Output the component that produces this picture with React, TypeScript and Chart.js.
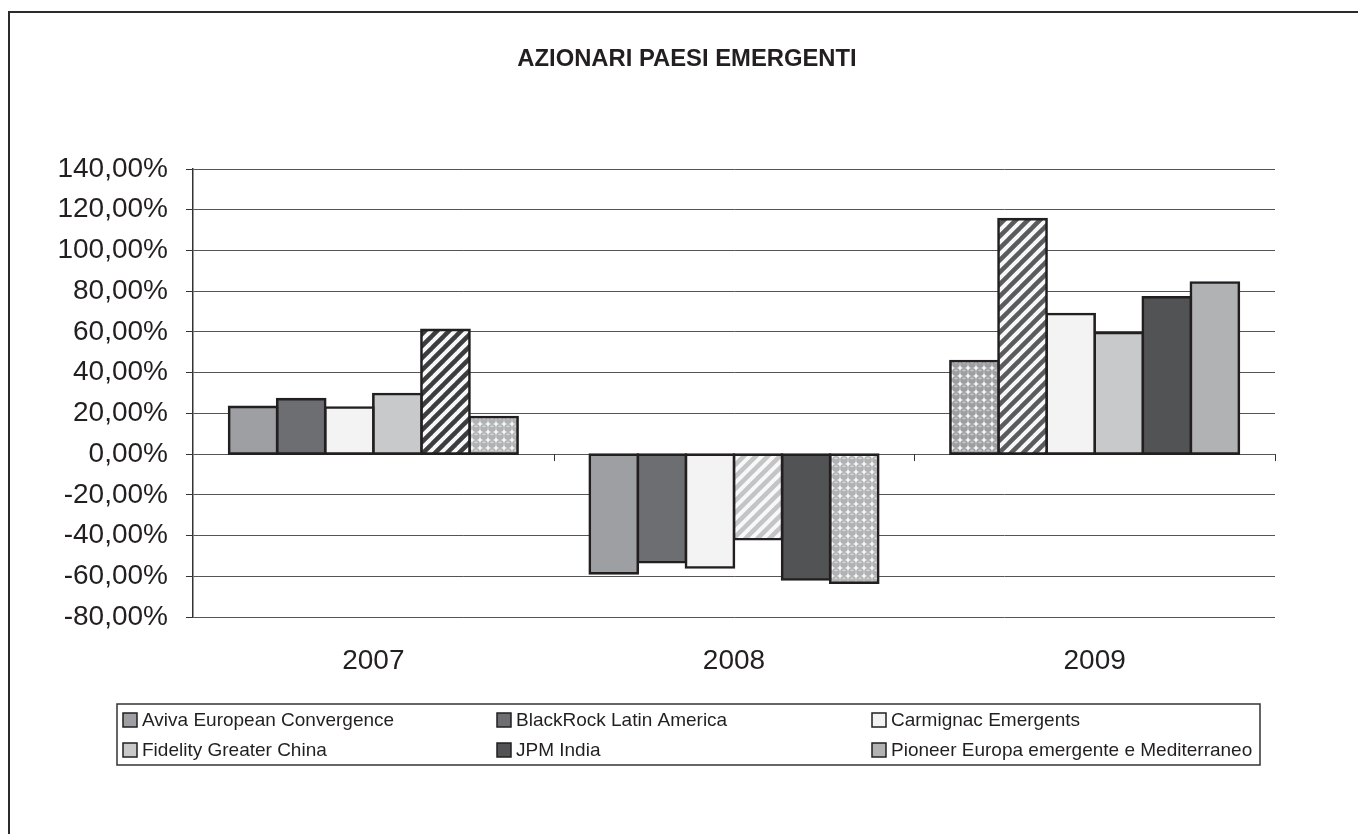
import React, { useEffect, useRef } from 'react';
import { Chart, registerables } from 'chart.js';

Chart.register(...registerables);

const chartTitle = 'AZIONARI PAESI EMERGENTI';
const categories = ['2007', '2008', '2009'];
const seriesNames = [
  'Aviva European Convergence',
  'BlackRock Latin America',
  'Carmignac Emergents',
  'Fidelity Greater China',
  'JPM India',
  'Pioneer Europa emergente e Mediterraneo',
];
const aviva = [23.2, -58.6, 45.7];
const blackrock = [27.0, -53.1, 115.4];
const carmignac = [22.9, -55.7, 68.8];
const fidelity = [29.5, -41.8, 59.5];
const jpm = [61.0, -61.6, 77.0];
const pioneer = [18.2, -63.2, 84.3];

// fill kind of each bar: 'solid' | 'stripe' | 'dots'
const avivaFill = ['solid', 'solid', 'dots'];
const blackrockFill = ['solid', 'solid', 'stripe'];
const carmignacFill = ['solid', 'solid', 'solid'];
const fidelityFill = ['solid', 'stripe', 'solid'];
const jpmFill = ['stripe', 'solid', 'solid'];
const pioneerFill = ['dots', 'dots', 'solid'];

const seriesColors = ['#9d9fa2', '#6d6e71', '#f2f3f2', '#c8c9cb', '#525355', '#b1b2b4'];
const stripeColors = ['#9d9fa2', '#5a5b5e', '#f2f3f2', '#c3c4c6', '#3c3d3f', '#b1b2b4'];

const yMin = -80;
const yMax = 140;
const yStep = 20;

const FONT = "'Liberation Sans', Arial, Helvetica, sans-serif";
const TEXT = '#231f20';

function makeStripe(color: string): CanvasPattern | string {
  const s = 12;
  const c = document.createElement('canvas');
  c.width = s;
  c.height = s;
  const g = c.getContext('2d');
  if (!g) return color;
  g.fillStyle = '#f8f8f8';
  g.fillRect(0, 0, s, s);
  g.strokeStyle = color;
  g.lineWidth = 4.5;
  g.lineCap = 'square';
  for (const x0 of [-s, 0, s]) {
    g.beginPath();
    g.moveTo(x0, s);
    g.lineTo(x0 + s, 0);
    g.stroke();
  }
  const p = g.createPattern(c, 'repeat');
  return p || color;
}

function makeDots(color: string): CanvasPattern | string {
  const s = 8;
  const c = document.createElement('canvas');
  c.width = s;
  c.height = s;
  const g = c.getContext('2d');
  if (!g) return color;
  g.fillStyle = '#f6f6f6';
  g.fillRect(0, 0, s, s);
  g.fillStyle = color;
  g.beginPath();
  g.arc(4, 4, 3.9, 0, Math.PI * 2);
  g.fill();
  g.fillStyle = 'rgba(255,255,255,0.45)';
  g.beginPath();
  g.ellipse(4, 2.4, 1.8, 0.9, 0, 0, Math.PI * 2);
  g.fill();
  const p = g.createPattern(c, 'repeat');
  return p || color;
}

export default function App() {
  const ref = useRef<HTMLCanvasElement | null>(null);

  useEffect(() => {
    const canvas = ref.current;
    if (!canvas) return;
    const values = [aviva, blackrock, carmignac, fidelity, jpm, pioneer];
    const fills = [avivaFill, blackrockFill, carmignacFill, fidelityFill, jpmFill, pioneerFill];

    const datasets = seriesNames.map((name, i) => ({
      label: name,
      data: values[i],
      backgroundColor: fills[i].map((f) =>
        f === 'stripe' ? makeStripe(stripeColors[i]) : f === 'dots' ? makeDots(seriesColors[i]) : seriesColors[i]
      ),
      borderColor: '#231f20',
      borderWidth: 2.6,
      borderSkipped: false as const,
      inflateAmount: 1.3,
      categoryPercentage: 0.8,
      barPercentage: 1.0,
    }));

    const overlay = {
      id: 'overlay',
      afterDatasetsDraw(chart: any) {
        const ctx = chart.ctx as CanvasRenderingContext2D;
        const xs = chart.scales.x;
        const ys = chart.scales.y;
        const y0 = ys.getPixelForValue(0);
        ctx.save();
        ctx.strokeStyle = '#333';
        ctx.lineWidth = 1;
        for (let i = 1; i <= categories.length; i++) {
          const x = Math.round(xs.getPixelForValue(i - 0.5)) + 0.5;
          ctx.beginPath();
          ctx.moveTo(x, y0);
          ctx.lineTo(x, y0 + 7);
          ctx.stroke();
        }
        ctx.restore();
      },
      afterDraw(chart: any) {
        const ctx = chart.ctx as CanvasRenderingContext2D;
        ctx.save();
        // title
        ctx.fillStyle = TEXT;
        ctx.font = `bold 23.8px ${FONT}`;
        ctx.textAlign = 'center';
        ctx.textBaseline = 'middle';
        ctx.fillText(chartTitle, 687, 59);

        // legend
        ctx.strokeStyle = '#333';
        ctx.lineWidth = 1.5;
        ctx.strokeRect(117, 704, 1143, 61);
        const colX = [123, 497, 872];
        const rowY = [720, 750];
        ctx.font = `19px ${FONT}`;
        ctx.textAlign = 'left';
        seriesNames.forEach((name, i) => {
          const cx = colX[i % 3];
          const cy = rowY[Math.floor(i / 3)];
          ctx.fillStyle = seriesColors[i];
          ctx.fillRect(cx, cy - 7, 14, 14);
          ctx.strokeStyle = '#231f20';
          ctx.lineWidth = 1.5;
          ctx.strokeRect(cx, cy - 7, 14, 14);
          ctx.fillStyle = TEXT;
          ctx.fillText(name, cx + 19, cy + 1);
        });
        ctx.restore();
      },
    };

    const chart = new Chart(canvas, {
      type: 'bar',
      data: { labels: categories, datasets: datasets as any },
      plugins: [overlay],
      options: {
        animation: false,
        responsive: false,
        devicePixelRatio: 1,
        layout: { padding: { top: 169, left: 0, right: 83, bottom: 0 } },
        plugins: {
          legend: { display: false },
          title: { display: false },
          tooltip: { enabled: false },
        },
        scales: {
          x: {
            grid: { display: false, drawTicks: false },
            border: { display: false },
            ticks: {
              color: TEXT,
              font: { family: FONT, size: 28 },
              padding: 27,
              maxRotation: 0,
            },
            afterFit: (s: any) => {
              s.height = 834 - 617;
            },
          },
          y: {
            min: yMin,
            max: yMax,
            ticks: {
              stepSize: yStep,
              autoSkip: false,
              color: TEXT,
              font: { family: FONT, size: 28 },
              padding: 18,
              callback: (v: any) => Number(v).toFixed(2).replace('.', ',') + '%',
            },
            grid: {
              color: '#555',
              lineWidth: 1,
              tickLength: 7,
              drawTicks: true,
              tickColor: '#333',
            },
            border: { display: true, color: '#333', width: 1.5 },
            afterFit: (s: any) => {
              s.width = 193;
            },
          },
        },
      },
    });
    return () => chart.destroy();
  }, []);

  return (
    <div
      style={{
        position: 'fixed',
        left: 0,
        top: 0,
        width: 1358,
        height: 834,
        overflow: 'hidden',
        background: '#fff',
      }}
    >
      <div
        style={{
          position: 'absolute',
          left: 8,
          top: 11,
          width: 1400,
          height: 900,
          borderTop: '2px solid #2b2b2b',
          borderLeft: '2px solid #2b2b2b',
        }}
      />
      <canvas ref={ref} width={1358} height={834} style={{ position: 'absolute', left: 0, top: 0 }} />
    </div>
  );
}
